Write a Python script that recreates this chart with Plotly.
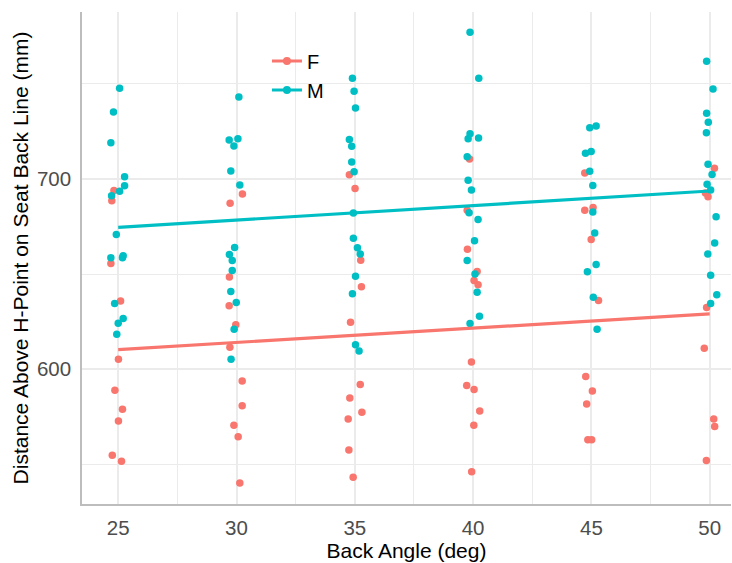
import numpy as np
import plotly.graph_objects as go

# Jittered back angle (deg) and H-point distance (mm), female subjects
f_angle = [24.82, 24.73, 24.69, 25.10, 25.01, 24.86, 25.18, 25.01, 24.75, 25.14,
           30.25, 29.73, 29.70, 29.69, 29.97, 29.72, 30.24, 30.24, 29.89, 30.07, 30.14,
           34.77, 35.01, 35.25, 35.28, 34.82, 35.23, 34.79, 35.30, 34.72, 34.75, 34.93,
           39.85, 39.75, 39.76, 40.17, 40.04, 40.21, 39.93, 39.73, 40.04, 40.28, 40.03, 39.94,
           44.72, 45.07, 44.72, 44.99, 45.30, 44.76, 45.04, 44.80, 44.85, 45.01,
           50.20, 49.82, 49.93, 49.87, 49.77, 50.17, 50.21, 49.86]
f_dist = [694.0, 688.6, 655.6, 635.9, 605.2, 588.9, 578.9, 572.8, 554.7, 551.6,
          692.1, 687.2, 648.4, 633.3, 623.3, 611.5, 593.8, 580.7, 570.5, 564.5, 540.2,
          702.2, 695.0, 657.3, 643.3, 624.7, 592.0, 584.9, 577.3, 573.8, 557.5, 543.1,
          710.5, 683.5, 663.1, 651.4, 646.6, 644.4, 603.7, 591.4, 589.3, 578.0, 570.5, 546.1,
          703.1, 685.0, 683.5, 668.2, 636.1, 596.1, 588.5, 581.7, 562.9, 562.9,
          705.7, 692.6, 690.6, 632.4, 611.0, 573.8, 569.8, 552.0]

# Male subjects
m_angle = [25.06, 24.80, 24.69, 25.27, 25.27, 25.06, 24.72, 24.92, 24.69, 25.21, 25.18,
           24.85, 25.21, 25.00, 24.94,
           30.10, 29.69, 30.06, 29.89, 29.76, 30.14, 29.92, 29.70, 29.82, 29.82, 29.76,
           29.99, 29.90, 29.77,
           34.90, 34.97, 35.03, 34.77, 34.87, 34.87, 34.97, 34.94, 34.94, 35.11, 35.23,
           35.03, 34.90, 35.03, 35.18,
           39.87, 40.24, 39.87, 39.79, 40.23, 39.75, 39.79, 39.93, 39.83, 40.21, 40.06,
           39.75, 40.08, 40.17, 40.27, 39.87,
           44.93, 45.20, 44.75, 44.99, 44.93, 45.06, 45.06, 45.14, 45.20, 44.83, 45.08, 45.24,
           49.87, 50.14, 49.87, 49.94, 49.86, 49.93, 50.10, 49.89, 50.04, 50.27, 50.21,
           49.92, 50.04, 50.30, 50.04]
m_dist = [747.7, 735.2, 719.1, 701.2, 696.5, 693.5, 691.2, 670.8, 658.6, 659.6, 658.6,
          634.5, 626.6, 624.2, 618.4,
          743.1, 720.5, 721.2, 717.3, 704.2, 696.8, 664.0, 660.3, 657.2, 651.9, 640.9,
          635.1, 621.0, 605.2,
          752.9, 746.1, 737.3, 720.7, 717.2, 708.9, 703.8, 682.1, 668.9, 663.8, 660.5,
          648.9, 639.6, 612.9, 609.6,
          777.2, 752.9, 723.8, 721.2, 721.5, 711.7, 699.3, 694.2, 682.3, 678.7, 667.5,
          657.2, 650.1, 640.5, 627.8, 624.0,
          727.0, 727.9, 713.5, 714.5, 704.0, 696.6, 682.6, 671.6, 655.0, 651.2, 637.8, 621.0,
          761.9, 747.3, 734.5, 729.8, 724.3, 707.8, 702.4, 697.2, 694.2, 680.1, 666.3,
          660.5, 649.4, 639.1, 634.5]

angle_ticks = [25, 30, 35, 40, 45, 50]
dist_ticks = [600, 700]

groups = [("F", f_angle, f_dist, "#F8766D"), ("M", m_angle, m_dist, "#00BFC4")]

fig = go.Figure()

for name, ang, dist, col in groups:
    fig.add_trace(go.Scatter(x=ang, y=dist, mode="markers", showlegend=False,
                             marker=dict(color=col, size=7.5, line=dict(width=0)),
                             hoverinfo="skip"))

# linear fit on the nominal (un-jittered) angle
for name, ang, dist, col in groups:
    nominal = np.round(np.array(ang) / 5) * 5
    slope, intercept = np.polyfit(nominal, np.array(dist), 1)
    xs = np.array([min(angle_ticks), max(angle_ticks)])
    fig.add_trace(go.Scatter(x=xs, y=intercept + slope * xs, mode="lines",
                             showlegend=False, line=dict(color=col, width=3.2)))

for name, ang, dist, col in groups:
    fig.add_trace(go.Scatter(x=[None], y=[None], mode="lines+markers", name=name,
                             line=dict(color=col, width=3.2),
                             marker=dict(color=col, size=8)))

font_family = "Liberation Sans, Arial, Helvetica, sans-serif"
grid = "#EBEBEB"

fig.update_layout(
    width=732, height=563,
    margin=dict(l=82, r=1, t=12, b=59),
    plot_bgcolor="white", paper_bgcolor="white",
    font=dict(family=font_family, size=20, color="black"),
    legend=dict(x=0.285, y=0.94, xanchor="left", yanchor="top",
                bgcolor="rgba(0,0,0,0)", font=dict(size=20, color="black"),
                itemwidth=30, tracegroupgap=0),
    xaxis=dict(
        range=[23.47, 50.9],
        tickvals=angle_ticks, ticktext=[str(v) for v in angle_ticks],
        tickfont=dict(size=20.5, color="#4D4D4D"),
        ticks="outside", ticklen=5, tickcolor="rgba(0,0,0,0)",
        showgrid=True, gridcolor=grid, gridwidth=1.6,
        minor=dict(tickvals=[27.5, 32.5, 37.5, 42.5, 47.5], showgrid=True,
                   gridcolor=grid, gridwidth=0.9, ticks=""),
        showline=True, linecolor="#BDBDBD", linewidth=1.5,
        zeroline=False,
        title=dict(text="Back Angle (deg)", font=dict(size=21, color="black"),
                   standoff=5),
    ),
    yaxis=dict(
        range=[529.1, 787.8],
        tickvals=dist_ticks, ticktext=[str(v) for v in dist_ticks],
        tickfont=dict(size=20.5, color="#4D4D4D"),
        ticks="outside", ticklen=5, tickcolor="rgba(0,0,0,0)",
        showgrid=True, gridcolor=grid, gridwidth=1.6,
        minor=dict(tickvals=[550, 650, 750], showgrid=True,
                   gridcolor=grid, gridwidth=0.9, ticks=""),
        showline=True, linecolor="#BDBDBD", linewidth=1.5,
        zeroline=False,
        title=dict(text="Distance Above H-Point on Seat Back Line (mm)",
                   font=dict(size=21, color="black"), standoff=3),
    ),
)

fig.write_html("out.html")
